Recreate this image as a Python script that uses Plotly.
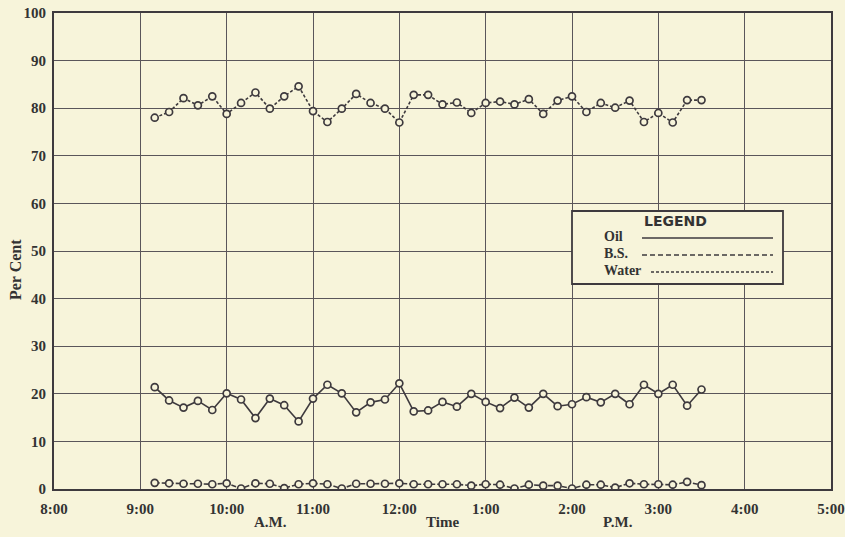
import plotly.graph_objects as go

# ---- data ----
times = ["09:10", "09:20", "09:30", "09:40", "09:50", "10:00", "10:10", "10:20", "10:30", "10:40",
         "10:50", "11:00", "11:10", "11:20", "11:30", "11:40", "11:50", "12:00", "12:10", "12:20",
         "12:30", "12:40", "12:50", "13:00", "13:10", "13:20", "13:30", "13:40", "13:50", "14:00",
         "14:10", "14:20", "14:30", "14:40", "14:50", "15:00", "15:10", "15:20", "15:30"]

water = [78.0, 79.2, 82.1, 80.6, 82.5, 78.8, 81.1, 83.3, 79.9, 82.5,
         84.6, 79.4, 77.1, 79.9, 83.0, 81.1, 79.9, 77.0, 82.8, 82.8,
         80.8, 81.2, 79.0, 81.1, 81.4, 80.8, 81.9, 78.8, 81.6, 82.5,
         79.2, 81.1, 80.1, 81.6, 77.1, 79.0, 77.0, 81.7, 81.7]

oil = [21.4, 18.6, 17.1, 18.5, 16.6, 20.1, 18.8, 14.9, 19.0, 17.6,
       14.2, 19.0, 21.9, 20.1, 16.1, 18.2, 18.8, 22.2, 16.3, 16.5,
       18.3, 17.3, 20.0, 18.3, 17.0, 19.2, 17.1, 20.0, 17.4, 17.8,
       19.3, 18.2, 20.0, 17.8, 21.9, 20.0, 21.9, 17.5, 20.9]

bs = [1.3, 1.2, 1.1, 1.1, 1.0, 1.2, 0.1, 1.2, 1.1, 0.2,
      1.0, 1.2, 1.0, 0.1, 1.1, 1.1, 1.1, 1.2, 1.0, 1.0,
      1.0, 1.0, 0.7, 1.0, 0.9, 0.1, 0.9, 0.7, 0.7, 0.1,
      0.9, 0.9, 0.3, 1.2, 1.0, 1.0, 0.9, 1.5, 0.8]

hour_ticks = [8, 9, 10, 11, 12, 13, 14, 15, 16, 17]
hour_labels = ["8:00", "9:00", "10:00", "11:00", "12:00", "1:00", "2:00", "3:00", "4:00", "5:00"]
y_ticks = [0, 10, 20, 30, 40, 50, 60, 70, 80, 90, 100]

x = [int(t.split(":")[0]) + int(t.split(":")[1]) / 60 for t in times]

PAPER = "#f7f4da"
INK = "#3e3a3e"
SERIF = "Liberation Serif, DejaVu Serif, serif"

fig = go.Figure()

def add(y, dash, name):
    fig.add_trace(go.Scatter(
        x=x, y=y, mode="lines+markers", name=name,
        line=dict(color=INK, width=1.6, dash=dash),
        marker=dict(symbol="circle", size=7, color=PAPER,
                    line=dict(color=INK, width=1.7)),
        showlegend=False))

add(water, "3px,2px", "Water")
add(oil, "solid", "Oil")
add(bs, "5px,2px", "B.S.")

axis_common = dict(showline=True, linecolor=INK, linewidth=2, mirror=True,
                   showgrid=True, gridcolor="#5a555a", gridwidth=1.3,
                   zeroline=False, ticks="", automargin=False,
                   tickfont=dict(family=SERIF, size=15, color="#333", weight="bold"))

fig.update_xaxes(range=[8, 17], tickvals=hour_ticks, ticktext=hour_labels,
                 ticklabelstandoff=5, **axis_common)
fig.update_yaxes(range=[0, 100], tickvals=y_ticks, ticklabelstandoff=3, **axis_common)

# page pixels -> plot-area paper fractions (plot area spans x 54..831, y 13..489)
def px(xp):
    return (xp - 54) / 777

def py(yp):
    return (489 - yp) / 476

def note(text, xp, yp, size=14, family=SERIF, xanchor="center", **kw):
    fig.add_annotation(xref="paper", yref="paper", x=px(xp), y=py(yp), text=text,
                       showarrow=False, yanchor="middle", xanchor=xanchor,
                       font=dict(family=family, size=size, color="#333"), **kw)

# y axis title
note("<b>Per Cent</b>", 15, 270, size=16, textangle=-90)

# Legend box (drawn manually to match the printed legend)
fig.add_shape(type="rect", xref="paper", yref="paper",
              x0=px(572), x1=px(783), y0=py(284), y1=py(211),
              fillcolor=PAPER, line=dict(color=INK, width=1.8), layer="above")

note("<b>LEGEND</b>", 675, 221, size=14, family="DejaVu Sans, sans-serif")
rows = [("Oil", 236, 642, "solid"), ("B.S.", 253, 642, "5px,3px"), ("Water", 270, 651, "3px,2px")]
for label, yp, xs, dash in rows:
    note("<b>" + label + "</b>", 602, yp, size=14, xanchor="left")
    fig.add_shape(type="line", xref="paper", yref="paper", x0=px(xs), x1=px(773),
                  y0=py(yp + 2), y1=py(yp + 2), line=dict(color=INK, width=1.5, dash=dash),
                  layer="above")

# A.M. / Time / P.M. labels
for txt, xp in [("A.M.", 270), ("Time", 442), ("P.M.", 618)]:
    note("<b>" + txt + "</b>", xp, 522, size=15)

fig.update_layout(width=845, height=537, paper_bgcolor=PAPER, plot_bgcolor=PAPER,
                  margin=dict(l=54, r=14, t=13, b=48))

fig.write_html("out.html", config={"displayModeBar": False},
               post_script="document.body.style.margin='0';")
